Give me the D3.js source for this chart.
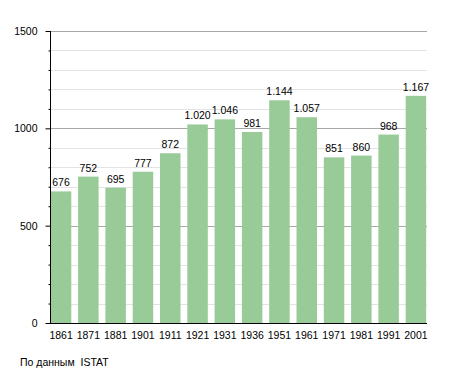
<!DOCTYPE html>
<html>
<head>
<meta charset="utf-8">
<script src="https://cdn.jsdelivr.net/npm/d3@7"></script>
<style>
html,body{margin:0;padding:0;background:#fff;}
text{font-family:"Liberation Sans",Arial,sans-serif;fill:#000;}
</style>
</head>
<body>
<script>
const years = ["1861","1871","1881","1901","1911","1921","1931","1936","1951","1961","1971","1981","1991","2001"];
const population = [676,752,695,777,872,1020,1046,981,1144,1057,851,860,968,1167];
const majorTicks = [0,500,1000,1500];
const minorTicks = d3.range(0,1501,100);
const footerText = "По данным  ISTAT";

const W = 455, H = 373;
const svg = d3.select("body").append("svg").attr("width", W).attr("height", H);

const x = d3.scaleBand().domain(years).range([50, 427]).paddingInner(0.25).paddingOuter(0.03);
const y = d3.scaleLinear().domain([0,1500]).range([323, 31]);

// minor grid
svg.append("g").selectAll("line").data(minorTicks.filter(d => d % 500 !== 0)).join("line")
  .attr("x1", 50).attr("x2", 427)
  .attr("y1", d => Math.round(y(d)) + 0.5).attr("y2", d => Math.round(y(d)) + 0.5)
  .attr("stroke", "#e3e3e3").attr("stroke-width", 1);
// major grid
svg.append("g").selectAll("line").data(majorTicks.filter(d => d > 0)).join("line")
  .attr("x1", 50).attr("x2", 427)
  .attr("y1", d => Math.round(y(d)) + 0.5).attr("y2", d => Math.round(y(d)) + 0.5)
  .attr("stroke", "#a8a8a8").attr("stroke-width", 1);

// bars
svg.append("g").selectAll("rect").data(population).join("rect")
  .attr("x", (d,i) => x(years[i]))
  .attr("width", x.bandwidth())
  .attr("y", d => y(d))
  .attr("height", d => y(0) - y(d))
  .attr("fill", "#98cb98");

// value labels
const fmt = d => d >= 1000 ? Math.floor(d/1000) + "." + String(d % 1000).padStart(3,"0") : String(d);
svg.append("g").selectAll("text").data(population).join("text")
  .attr("x", (d,i) => x(years[i]) + x.bandwidth()/2)
  .attr("y", d => y(d) - 5)
  .attr("text-anchor", "middle")
  .attr("font-size", "10.5px")
  .text(fmt);

// y axis major
const yAxis = d3.axisLeft(y).tickValues(majorTicks).tickSize(5).tickPadding(8).tickFormat(d3.format("d"));
const gy = svg.append("g").attr("transform", "translate(50.5,0)").call(yAxis);
gy.select(".domain").remove();
gy.selectAll("text").attr("font-size", "10.5px").attr("font-family", "Liberation Sans, Arial, sans-serif");
gy.selectAll("line").attr("stroke", "#000");
// minor ticks
const yMinor = d3.axisLeft(y).tickValues(minorTicks.filter(d => d % 500 !== 0)).tickSize(2).tickFormat("");
const gym = svg.append("g").attr("transform", "translate(50.5,0)").call(yMinor);
gym.select(".domain").remove();
gym.selectAll("line").attr("stroke", "#000");

// axis lines
svg.append("line").attr("x1", 50.5).attr("x2", 50.5).attr("y1", y(1500)).attr("y2", y(0)+0.5).attr("stroke", "#000");
svg.append("line").attr("x1", 50).attr("x2", 427).attr("y1", Math.round(y(0))+0.5).attr("y2", Math.round(y(0))+0.5).attr("stroke", "#000");

// x axis labels
const xAxis = d3.axisBottom(x).tickSize(0).tickPadding(9);
const gx = svg.append("g").attr("transform", `translate(0,${Math.round(y(0))})`).call(xAxis);
gx.select(".domain").remove();
gx.selectAll("text").attr("font-size", "10.5px").attr("font-family", "Liberation Sans, Arial, sans-serif");

// footer
svg.append("text").attr("x", 20).attr("y", 366).attr("font-size", "10.5px")
  .style("white-space", "pre").attr("xml:space", "preserve").text(footerText);
</script>
</body>
</html>
